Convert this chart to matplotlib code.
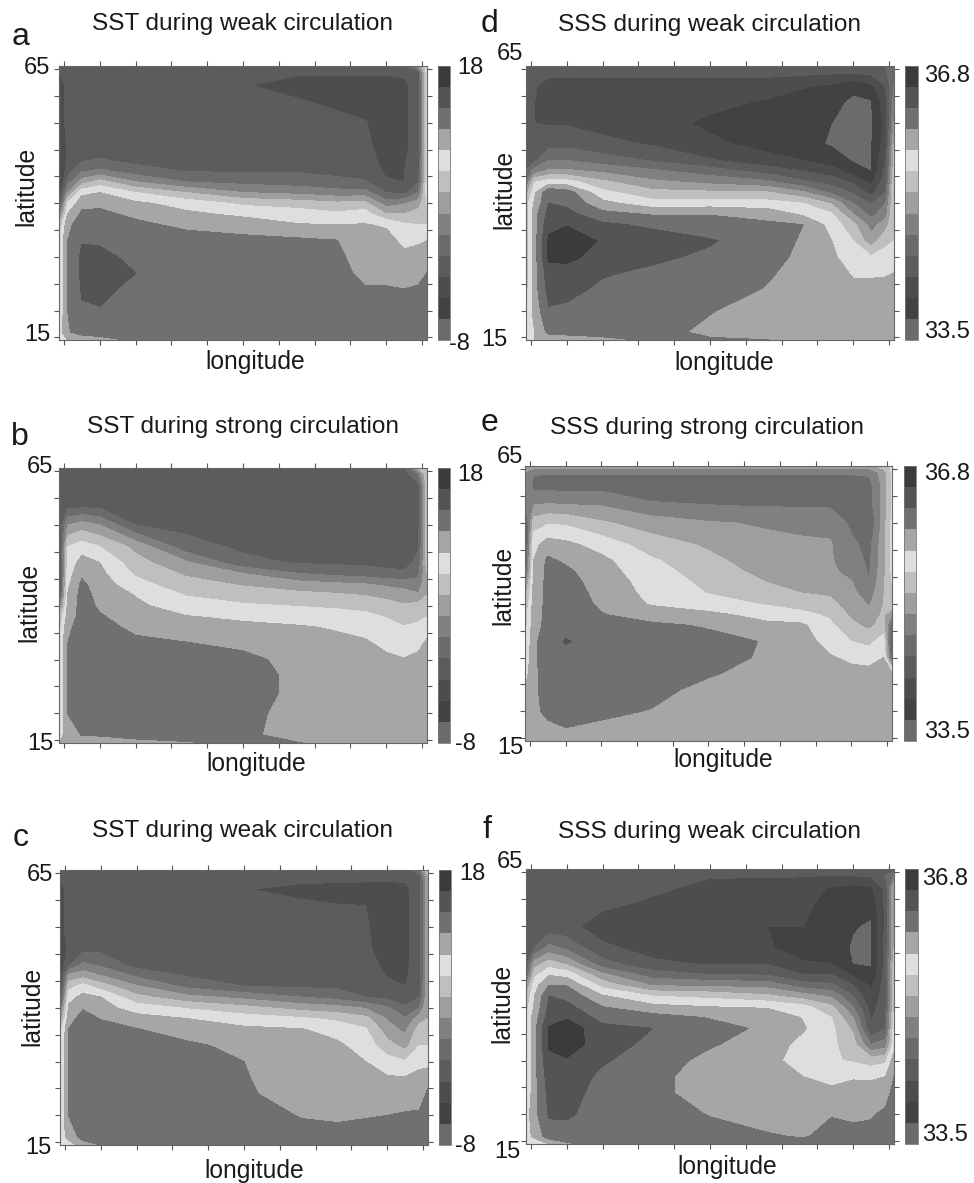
# -*- coding: UTF-8 -*-
import numpy as np
import matplotlib
matplotlib.use('Agg')
import matplotlib.pyplot as plt

plt.rcParams['font.family'] = ['Liberation Sans', 'DejaVu Sans']

W, H = 974, 1183

lon = [-0.7, 0.5, 2.5, 5, 10, 17, 25, 33, 38, 42, 45, 47.5, 49.5, 50.7]
lat = [65.6, 64.5, 62, 59, 55, 51, 48, 46, 44, 42, 40, 38, 36, 33, 30, 27, 24, 20, 16, 14.5]

# grey of each colour bar step, bottom to top
band_greys = [.42, .26, .30, .36, .42, .50, .62, .75, .87, .65, .44, .33, .23]

sst_range = (-8, 18)
sss_range = (33.5, 36.8)

sst_a = [
    [3.2, 3.3, 3.3, 3.3, 3.3, 3.3, 3.3, 3.3, 3.3, 3.3, 3.3, 3.5, 6, 8.5],
    [3, 3.2, 3.3, 3.3, 3.3, 3.3, 3.2, 3.1, 3.1, 3.1, 3.1, 3.2, 3.6, 8.5],
    [2.8, 3.1, 3.3, 3.3, 3.3, 3.3, 3.05, 2.7, 2.7, 2.7, 2.7, 2.8, 3.4, 8.5],
    [2.8, 3.1, 3.3, 3.3, 3.3, 3.3, 3.2, 3.05, 2.85, 2.7, 2.6, 2.8, 3.4, 8.5],
    [2.8, 3.1, 3.3, 3.3, 3.3, 3.3, 3.3, 3.3, 3.2, 3.05, 2.6, 2.8, 3.4, 8.5],
    [2.5, 3.1, 3.3, 3.4, 3.4, 3.4, 3.5, 3.5, 3.4, 3.2, 2.6, 2.8, 3.4, 8.5],
    [2, 3.1, 3.9, 4.1, 3.7, 3.6, 3.7, 3.7, 3.6, 3.4, 2.7, 2.9, 3.5, 8.5],
    [1.8, 3.5, 4.9, 5.2, 4.5, 3.95, 3.9, 3.9, 3.8, 3.6, 2.85, 3, 3.6, 8.5],
    [1.5, 4.5, 6.5, 7.4, 6, 5, 4.7, 4.5, 4.2, 4.1, 3.1, 3, 4, 8.5],
    [2, 6, 8.7, 9, 8, 7, 6, 5.7, 5.4, 5.4, 4, 3.7, 5, 8.5],
    [3, 8, 9.7, 9.8, 9.2, 8.6, 7.8, 7.5, 7.2, 7.3, 5.5, 5.9, 6.5, 8],
    [5, 9, 10.2, 10.2, 9.8, 9.2, 8.8, 8.5, 8.2, 8.5, 7, 7, 7.5, 8],
    [7, 9.8, 10.4, 10.4, 10.2, 9.8, 9.5, 9.05, 9, 9.05, 8.9, 8.2, 8, 8],
    [8, 10, 10.95, 10.9, 10.6, 10.4, 10.3, 10.2, 10.05, 9.2, 9.3, 8.8, 8.9, 9],
    [8, 10, 11.2, 11.2, 10.8, 10.5, 10.5, 10.5, 10.3, 9.4, 9.5, 9.2, 9.3, 9.5],
    [8, 10, 11.2, 11.3, 11, 10.5, 10.5, 10.5, 10.4, 9.7, 9.8, 9.6, 9.7, 10],
    [8, 10, 11.1, 11.2, 10.8, 10.5, 10.5, 10.5, 10.5, 10.1, 10.05, 10, 10.1, 10.3],
    [8, 10, 10.9, 10.95, 10.6, 10.5, 10.5, 10.5, 10.5, 10.4, 10.4, 10.4, 10.4, 10.4],
    [8.5, 9.9, 10.4, 10.5, 10.5, 10.5, 10.5, 10.5, 10.5, 10.5, 10.5, 10.5, 10.5, 10.4],
    [9, 9, 9.4, 9.6, 10.2, 10.5, 10.5, 10.5, 10.5, 10.5, 10.5, 10.5, 10.5, 10.4],
]

sst_b = [
    [3.3, 3.3, 3.3, 3.3, 3.3, 3.3, 3.3, 3.3, 3.3, 3.3, 3.3, 3.6, 7, 8],
    [3.3, 3.3, 3.3, 3.3, 3.3, 3.3, 3.4, 3.4, 3.4, 3.4, 3.4, 3.5, 5, 8],
    [3, 3.3, 3.3, 3.3, 3.3, 3.3, 3.4, 3.4, 3.4, 3.4, 3.4, 3.4, 3.5, 7.5],
    [3, 3.3, 3.4, 3.4, 3.4, 3.4, 3.4, 3.4, 3.4, 3.4, 3.4, 3.4, 3.6, 7.5],
    [3, 6, 6.5, 6, 4, 3.7, 3.5, 3.4, 3.4, 3.4, 3.4, 3.4, 3.7, 7.5],
    [2.5, 8, 8.5, 8, 6.7, 4.4, 3.8, 3.6, 3.5, 3.5, 3.4, 3.4, 3.9, 7.5],
    [2.5, 8.3, 9.4, 9, 7.4, 6.2, 4.3, 3.9, 3.85, 3.8, 3.7, 3.6, 4.3, 7.5],
    [2.3, 8.5, 9.8, 9.25, 7.85, 6.85, 6, 5, 4.7, 4.5, 4.3, 4.2, 4.8, 7],
    [2.5, 8.8, 10.2, 9.5, 8.35, 7.4, 6.9, 6.4, 6.2, 6.05, 5.8, 5.6, 5.3, 7],
    [3, 9, 10.4, 9.65, 8.95, 7.95, 7.5, 7.3, 7.15, 6.95, 6.75, 6.5, 6.2, 7],
    [5, 9.2, 10.4, 9.85, 9.2, 8.5, 8.15, 7.95, 7.85, 7.7, 7.35, 7.1, 7.4, 7.5],
    [7, 9.4, 10.4, 10.1, 9.5, 9.05, 8.8, 8.55, 8.4, 8.25, 7.95, 7.6, 7.9, 8],
    [7.5, 9.8, 10.4, 10.3, 9.8, 9.45, 9.25, 9.1, 8.9, 8.65, 8.3, 8.05, 8.1, 8.5],
    [8, 10, 10.4, 10.5, 10.2, 10.05, 9.75, 9.4, 9.3, 9.15, 8.75, 8.55, 8.7, 9.2],
    [8, 10, 10.4, 10.5, 10.5, 10.4, 10.3, 9.6, 9.5, 9.4, 9.2, 9.05, 9.3, 9.5],
    [8, 10, 10.4, 10.5, 10.5, 10.4, 10.5, 9.7, 9.5, 9.5, 9.4, 9.3, 9.5, 9.5],
    [8, 10, 10.4, 10.5, 10.5, 10.4, 10.5, 9.7, 9.5, 9.5, 9.5, 9.5, 9.5, 9.5],
    [8, 10, 10.4, 10.4, 10.5, 10.4, 10.3, 9.6, 9.5, 9.5, 9.5, 9.5, 9.5, 9.5],
    [8.5, 9.5, 10.05, 10.1, 10.3, 10.4, 10.25, 9.5, 9.5, 9.5, 9.5, 9.5, 9.5, 9.5],
    [9, 9.3, 9.3, 9.4, 9.7, 9.9, 10.2, 10.02, 9.7, 9.5, 9.5, 9.5, 9.5, 9.5],
]

sst_c = [
    [3.3, 3.3, 3.3, 3.3, 3.3, 3.3, 3.3, 3.3, 3.3, 3.3, 3.3, 3.4, 5, 8],
    [3.1, 3.3, 3.3, 3.3, 3.3, 3.3, 3.3, 3.2, 3.2, 3.2, 3.2, 3.2, 3.6, 7],
    [2.8, 3.2, 3.3, 3.3, 3.3, 3.3, 3.02, 2.85, 2.8, 2.75, 2.7, 2.8, 3.4, 7],
    [2.8, 3.2, 3.3, 3.3, 3.3, 3.3, 3.2, 3.1, 3.02, 3, 2.7, 2.8, 3.5, 7],
    [2.8, 3.2, 3.3, 3.3, 3.3, 3.3, 3.3, 3.2, 3.1, 3.05, 2.75, 2.8, 3.5, 7],
    [2.3, 3.2, 3.6, 3.7, 3.4, 3.4, 3.4, 3.3, 3.2, 3.1, 2.75, 2.8, 3.5, 7],
    [2.2, 3.8, 5.2, 4.8, 3.6, 3.6, 3.6, 3.5, 3.4, 3.3, 2.8, 2.8, 3.5, 7],
    [2.2, 6.3, 6.6, 6, 4.8, 3.9, 3.75, 3.7, 3.6, 3.5, 2.95, 2.85, 3.5, 7],
    [2.3, 7.6, 8.4, 7.5, 6.1, 4.75, 4, 3.85, 3.8, 3.8, 3.3, 3, 3.6, 7],
    [3, 8.6, 9.3, 9, 7.3, 6.3, 5.7, 5, 4.6, 4, 3.7, 3.5, 4, 7],
    [4.5, 9.2, 9.9, 9.4, 8.5, 7.9, 7.3, 6.6, 6.35, 5.9, 5.1, 4.1, 5, 7],
    [6, 9.6, 10.4, 9.95, 9.4, 9, 8.5, 8.15, 7.8, 7.3, 5.9, 5.1, 6.5, 7],
    [7.5, 10, 10.4, 10.4, 10.05, 9.5, 9.2, 9.05, 8.6, 8.1, 6.45, 5.75, 7.5, 7.5],
    [8, 10, 10.4, 10.4, 10.4, 10.2, 9.7, 9.3, 9.2, 8.5, 7.4, 6.6, 8, 8],
    [8, 10, 10.4, 10.4, 10.4, 10.4, 10, 9.45, 9.4, 9, 8.4, 8.1, 8.6, 8.5],
    [8, 10, 10.4, 10.4, 10.4, 10.4, 10.05, 9.6, 9.5, 9.3, 9.1, 9.05, 9.4, 9.8],
    [8, 10, 10.4, 10.4, 10.4, 10.4, 10.1, 9.7, 9.6, 9.55, 9.5, 9.5, 9.7, 10.1],
    [8, 10, 10.4, 10.4, 10.4, 10.4, 10.4, 9.95, 9.9, 9.95, 10, 10.1, 10.1, 10.3],
    [8.5, 9.3, 10.4, 10.4, 10.4, 10.4, 10.4, 10.3, 10.2, 10.3, 10.3, 10.3, 10.3, 10.3],
    [9, 8.5, 9.5, 10, 10.4, 10.4, 10.4, 10.4, 10.4, 10.4, 10.4, 10.4, 10.4, 10.3],
]

sss_d = [
    [3.3, 3.3, 3.3, 3.3, 3.3, 3.3, 3.3, 3.3, 3.3, 3.3, 3.3, 3.4, 4, 5],
    [3.3, 3.3, 3.3, 3.3, 3.3, 3.3, 3.3, 3.3, 3.3, 3.2, 3.2, 3.3, 3.8, 5],
    [3.2, 3.1, 2.6, 2.6, 2.6, 2.6, 2.6, 2.55, 2.1, 1.9, 1.3, 1.8, 3.1, 5],
    [3.2, 3, 2.5, 2.5, 2.5, 2.5, 2.3, 1.9, 1.6, 1.3, 0.8, 0.9, 2.6, 5.5],
    [3.2, 3, 2.9, 2.9, 2.6, 2.4, 1.8, 1.5, 1.4, 1, 0.7, 0.9, 2.3, 6],
    [3.2, 3.2, 3.6, 3.7, 3.3, 2.9, 2.2, 1.7, 1.3, 0.9, 0.7, 0.9, 2.5, 7],
    [3.5, 3.8, 5, 5, 4.5, 3.9, 3.1, 2.3, 2, 1.5, 0.9, 0.95, 3, 7.5],
    [4, 5.5, 6.2, 6.2, 5.8, 5.2, 4.5, 3.6, 3, 2.4, 1.5, 1, 3.3, 7.5],
    [5, 7.9, 8.5, 8.4, 7.2, 6.2, 5.7, 5.2, 4.2, 3.6, 2.8, 1.7, 3.6, 8],
    [6.5, 8.8, 10.9, 10.5, 8.3, 7.3, 7.2, 7.1, 6.2, 4.8, 3.9, 2.7, 4, 8],
    [7.5, 9.2, 11, 10.8, 9.3, 8.4, 8.5, 8.4, 8, 6.9, 5, 3.9, 5, 8],
    [7.5, 9.6, 11.4, 11.3, 10.3, 9.9, 9.95, 9.6, 8.8, 8.1, 6, 4.7, 5.5, 8],
    [7.5, 9.6, 11.7, 11.95, 11.2, 10.8, 10.4, 10.2, 10, 8.6, 7.3, 5.6, 6.5, 8],
    [7.5, 9.6, 12.2, 12.5, 11.9, 11.5, 11.1, 10.4, 9.9, 9, 8, 6.4, 7.8, 8],
    [7.5, 9.6, 12.2, 12.2, 11.7, 11.2, 10.8, 10.3, 9.8, 9.1, 8.7, 8.1, 8.3, 8.5],
    [7.5, 9.6, 11.6, 11.7, 11.1, 10.8, 10.6, 10.1, 9.7, 9.4, 8.9, 8.9, 8.9, 9],
    [7.5, 9.6, 11.4, 11.3, 10.8, 10.5, 10.4, 9.95, 9.6, 9.4, 9.2, 9.2, 9.3, 9.4],
    [8, 9.4, 10.9, 10.8, 10.5, 10.4, 10.05, 9.6, 9.5, 9.5, 9.5, 9.5, 9.5, 9.5],
    [8.5, 9, 10.3, 10.3, 10.3, 10.3, 9.8, 9.6, 9.5, 9.5, 9.5, 9.5, 9.5, 9.5],
    [9, 9, 9.3, 9.5, 9.8, 10.1, 10.1, 10.01, 9.6, 9.5, 9.5, 9.5, 9.5, 9.5],
]

sss_e = [
    [6.6, 6.6, 6.6, 6.6, 6.6, 6.6, 6.6, 6.6, 6.6, 6.6, 6.6, 6.6, 7.5, 8.2],
    [6, 5.1, 5.1, 5.1, 5.1, 5.1, 5.1, 5.1, 5.1, 5.1, 5.1, 5.2, 6.5, 8.2],
    [6, 4.7, 4.6, 4.6, 4.6, 4.6, 4.6, 4.6, 4.6, 4.6, 4.6, 4.6, 6.3, 8.2],
    [5, 5.7, 5.8, 5.7, 5.7, 5, 4.8, 4.7, 4.7, 4.7, 4.6, 4.6, 6.4, 8.2],
    [3.5, 7.5, 7.9, 7.85, 7.15, 6.5, 6.1, 5.9, 5.85, 5.7, 4.8, 3.9, 6.5, 8.2],
    [3, 8.7, 9.45, 9.25, 8.6, 7.5, 6.85, 6.25, 6.1, 6.1, 5.2, 4.7, 6.6, 8.2],
    [3.5, 9, 10.2, 9.85, 9.25, 8.15, 7.25, 6.5, 6.3, 6.1, 5.5, 4.8, 6.6, 8.2],
    [4, 9.1, 10.3, 10.2, 9.4, 8.4, 7.5, 6.7, 6.45, 6.2, 5.7, 4.9, 6.7, 8.2],
    [5.5, 9.2, 10.3, 10.4, 9.55, 8.6, 7.75, 7, 6.6, 6.5, 6.05, 5.1, 6.8, 8],
    [6.5, 9.3, 10.3, 10.5, 9.7, 8.7, 7.95, 7.4, 7, 6.85, 6.25, 5.5, 6.9, 8],
    [7, 9.4, 10.3, 10.5, 9.85, 8.9, 8.5, 7.9, 7.6, 7.3, 6.5, 5.9, 7, 8],
    [7.5, 9.5, 10.3, 10.5, 10.05, 9.5, 9.2, 8.7, 8.25, 7.85, 6.8, 6.3, 7.2, 6],
    [7.5, 9.6, 10.3, 10.5, 10.3, 10.2, 9.9, 9.2, 9.2, 8.2, 7.25, 6.75, 7.4, 4],
    [7.8, 9.8, 10.5, 11.1, 10.5, 10.4, 10.3, 9.95, 9.4, 8.65, 8, 7.7, 8.5, 3.5],
    [8, 9.85, 10.4, 10.6, 10.5, 10.5, 10.3, 9.9, 9.5, 9.1, 8.8, 8.65, 9, 4],
    [8.5, 9.85, 10.3, 10.5, 10.5, 10.5, 10.1, 9.6, 9.5, 9.4, 9.3, 9.3, 9.3, 9.3],
    [9, 9.85, 10.3, 10.5, 10.5, 10.3, 9.7, 9.5, 9.5, 9.5, 9.5, 9.5, 9.5, 9.5],
    [9.5, 9.8, 10.2, 10.3, 10.2, 9.95, 9.5, 9.5, 9.5, 9.5, 9.5, 9.5, 9.5, 9.5],
    [9.5, 9.5, 9.7, 9.9, 9.7, 9.5, 9.5, 9.5, 9.5, 9.5, 9.5, 9.5, 9.5, 9.5],
    [9.5, 9.5, 9.5, 9.5, 9.5, 9.5, 9.5, 9.5, 9.5, 9.5, 9.5, 9.5, 9.5, 9.5],
]

sss_f = [
    [3.3, 3.3, 3.3, 3.3, 3.3, 3.3, 3.3, 3.3, 3.3, 3.3, 3.3, 3.3, 3.4, 3.3],
    [3.3, 3.3, 3.3, 3.3, 3.3, 3.3, 3.1, 3.1, 3.1, 3, 3.1, 3.2, 4, 5],
    [3.3, 3.3, 3.3, 3.3, 3.3, 3.2, 2.7, 2.6, 2.4, 1.9, 1.6, 1.8, 3.2, 7],
    [3.3, 3.3, 3.3, 3.3, 3.2, 2.8, 2.3, 2.2, 2.3, 1.5, 1.3, 1.2, 3.2, 7],
    [3.3, 3.3, 3.3, 3.3, 2.5, 2.3, 2.2, 2, 2, 1.4, 1.05, 0.9, 3.2, 7],
    [3.3, 4, 5.3, 4.7, 3.2, 2.6, 2.3, 2.1, 1.6, 1.4, 0.9, 0.9, 3.3, 7],
    [3.4, 6.5, 7.5, 6.8, 4.4, 3.2, 2.9, 2.9, 2.1, 2, 0.95, 0.95, 3.4, 7.5],
    [4, 7.7, 8.9, 8.6, 6.2, 4.5, 4, 3.9, 3, 3, 1.8, 1.1, 3.4, 7.5],
    [6, 8.6, 10, 9.95, 7.6, 5.9, 5.8, 5.6, 4.5, 4.2, 3, 1.8, 3.5, 7.5],
    [7, 9, 11, 10.7, 9.1, 8, 7.7, 7.2, 6.5, 5.8, 4, 2.1, 3.6, 7.5],
    [7.5, 9.2, 11.2, 11.3, 10, 9.3, 9, 8.9, 8.3, 7.2, 5, 2.5, 3.7, 7.5],
    [8, 9.5, 11.5, 11.9, 10.6, 10.4, 9.95, 9.6, 8.95, 8, 6, 2.9, 3.9, 8.5],
    [8, 9.7, 12.1, 12.6, 11.3, 11, 10.3, 9.85, 9.1, 8.2, 6.8, 3, 4, 8.5],
    [8, 9.7, 12.1, 12.5, 11.5, 10.7, 10.1, 9.5, 8.7, 8.2, 7.4, 5, 5.5, 8.5],
    [8, 9.7, 11.8, 11.9, 11.1, 10.5, 9.7, 9.5, 8.3, 8.1, 7.9, 7.5, 7.8, 9.5],
    [8, 9.7, 11.5, 11.5, 10.8, 10.3, 9.5, 9.5, 9, 8.6, 8.9, 8.9, 9, 10],
    [8, 9.7, 11.3, 11.3, 10.7, 10.3, 9.5, 9.5, 9.4, 9.3, 9.4, 9.3, 9.6, 10.3],
    [8.5, 9.7, 11.1, 11.1, 10.7, 10.5, 9.95, 9.5, 9.5, 9.95, 9.8, 9.9, 10.2, 10.4],
    [8.7, 9.2, 10.6, 10.7, 10.6, 10.5, 10.4, 10.1, 9.9, 10.3, 10.3, 10.3, 10.4, 10.4],
    [9, 8.5, 9, 9.8, 10.5, 10.5, 10.5, 10.4, 10.3, 10.4, 10.4, 10.4, 10.4, 10.4],
]

sst_title_weak = 'SST during weak circulation'
sst_title_strong = 'SST during strong circulation'
sss_title_weak = 'SSS during weak circulation'
sss_title_strong = 'SSS during strong circulation'

fig = plt.figure(figsize=(W / 100, H / 100), dpi=100)


def put(x, y, s, size=16, **kw):
    # x, y in image pixels, centre of the text
    fig.text(x / W, 1 - y / H, s, fontsize=size, ha='center', va='center', color='#1a1a1a', **kw)


def make_axes(x0, y0, x1, y1):
    return fig.add_axes([x0 / W, 1 - y1 / H, (x1 - x0) / W, (y1 - y0) / H])


def panel(u, rng, box, cbox, letter, title, top_s, bot_s, txt):
    ax = make_axes(*box)
    levels = np.linspace(rng[0], rng[1], 14)
    field = rng[0] + np.array(u) * (rng[1] - rng[0]) / 13.0
    cf = ax.contourf(lon, lat, field, levels=levels, colors=[str(g) for g in band_greys])
    ax.set_xlim(-0.7, 50.7)
    ax.set_ylim(14.5, 65.6)
    ax.set_xticks(np.arange(0, 51, 5))
    ax.set_yticks(np.arange(15, 66, 5))
    ax.tick_params(top=True, right=True, direction='out', length=3.5, width=0.8, color='#555555',
                   labelbottom=False, labelleft=False)
    for sp in ax.spines.values():
        sp.set_color('#666666')
        sp.set_linewidth(0.8)

    cax = make_axes(*cbox)
    cb = fig.colorbar(cf, cax=cax)
    cb.set_ticks([])
    cb.outline.set_edgecolor('#777777')
    cb.outline.set_linewidth(0.6)

    put(*txt['letter'], letter, size=23)
    put(*txt['title'], title, size=17.6)
    put(*txt['lon'], 'longitude', size=17.7)
    put(*txt['lat'], 'latitude', size=17.7, rotation=90)
    put(*txt['65'], '65', size=17)
    put(*txt['15'], '15', size=17)
    put(*txt['top'], top_s, size=17)
    put(*txt['bot'], bot_s, size=17)


panel(sst_a, sst_range, (59, 66, 427, 340), (438, 66, 450, 340), 'a', sst_title_weak, '18', '-8',
      {'letter': (21, 37), 'title': (242, 24), 'lon': (255, 362), 'lat': (26, 186), '65': (37, 68),
       '15': (37, 335), 'top': (470, 68), 'bot': (459, 344)})
panel(sst_b, sst_range, (59, 468, 427, 743), (438, 468, 450, 743), 'b', sst_title_strong, '18', '-8',
      {'letter': (20, 437), 'title': (243, 427), 'lon': (256, 764), 'lat': (29, 602), '65': (40, 467),
       '15': (40, 744), 'top': (470, 475), 'bot': (465, 744)})
panel(sst_c, sst_range, (60, 870, 428, 1145), (439, 870, 451, 1145), 'c', sst_title_weak, '18', '-8',
      {'letter': (21, 838), 'title': (243, 831), 'lon': (254, 1171), 'lat': (32, 1006), '65': (40, 875),
       '15': (38, 1148), 'top': (472, 874), 'bot': (465, 1146)})
panel(sss_d, sss_range, (526, 66, 894, 340), (905, 66, 918, 340), 'd', sss_title_weak, '36.8', '33.5',
      {'letter': (490, 24), 'title': (709, 25), 'lon': (724, 363), 'lat': (504, 189), '65': (510, 54),
       '15': (494, 340), 'top': (947, 76), 'bot': (947, 332)})
panel(sss_e, sss_range, (525, 466, 892, 741), (904, 466, 916, 741), 'e', sss_title_strong, '36.8', '33.5',
      {'letter': (489, 423), 'title': (707, 428), 'lon': (723, 760), 'lat': (503, 585), '65': (510, 457),
       '15': (510, 748), 'top': (947, 474), 'bot': (947, 732)})
panel(sss_f, sss_range, (526, 869, 894, 1144), (905, 869, 918, 1144), 'f', sss_title_weak, '36.8', '33.5',
      {'letter': (487, 830), 'title': (709, 832), 'lon': (727, 1167), 'lat': (502, 1003), '65': (510, 862),
       '15': (507, 1152), 'top': (945, 879), 'bot': (945, 1135)})

fig.savefig('out.png', dpi=100)
